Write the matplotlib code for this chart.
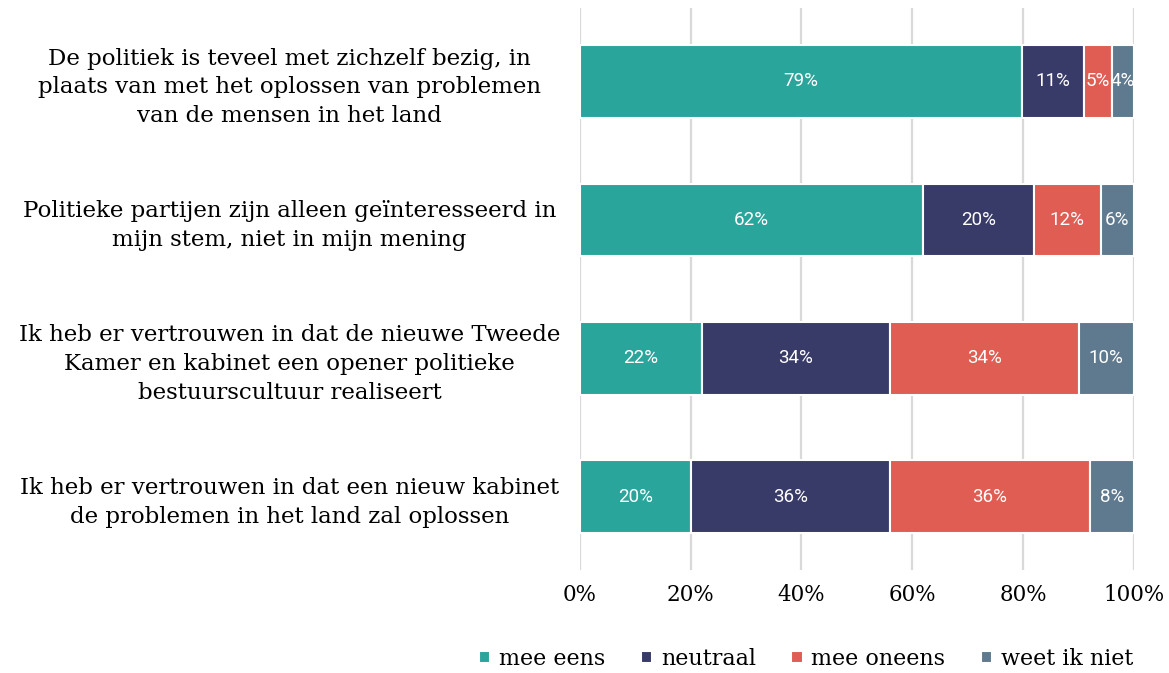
import matplotlib.pyplot as plt
import numpy as np

# data
statements = [
    "De politiek is teveel met zichzelf bezig, in\nplaats van met het oplossen van problemen\nvan de mensen in het land",
    "Politieke partijen zijn alleen geïnteresseerd in\nmijn stem, niet in mijn mening",
    "Ik heb er vertrouwen in dat de nieuwe Tweede\nKamer en kabinet een opener politieke\nbestuurscultuur realiseert",
    "Ik heb er vertrouwen in dat een nieuw kabinet\nde problemen in het land zal oplossen",
]
categories = ["mee eens", "neutraal", "mee oneens", "weet ik niet"]
mee_eens = [79, 62, 22, 20]
neutraal = [11, 20, 34, 36]
mee_oneens = [5, 12, 34, 36]
weet_niet = [4, 6, 10, 8]
colors = ["#2aa59b", "#383a68", "#df5d52", "#5f7a8f"]

serif = ["DejaVu Serif"]

values = np.array([mee_eens, neutraal, mee_oneens, weet_niet], dtype=float)
totals = values.sum(axis=0)
shares = values / totals * 100  # 100% gestapeld

fig = plt.figure(figsize=(11.69, 6.73), dpi=100)
ax = fig.add_axes([0.496, 0.153, 0.474, 0.835])

y = np.arange(len(statements))
left = np.zeros(len(statements))
for i, cat in enumerate(categories):
    bars = ax.barh(y, shares[i], left=left, height=0.525, color=colors[i],
                   edgecolor="white", linewidth=1.5, label=cat, zorder=3)
    for j, bar in enumerate(bars):
        ax.text(left[j] + shares[i][j] / 2, y[j], f"{int(values[i][j])}%",
                ha="center", va="center", color="white", fontsize=13.5,
                family=["Roboto", "DejaVu Sans"], zorder=4)
    left += shares[i]

ax.set_ylim(3.53, -0.53)
ax.set_xlim(0, 100)
ax.set_xticks([0, 20, 40, 60, 80, 100])
ax.set_xticklabels(["0%", "20%", "40%", "60%", "80%", "100%"], family=serif, fontsize=15.5)
ax.set_yticks(y)
ax.set_yticklabels(statements, family=serif, fontsize=16.5, ha="center", linespacing=1.4)
ax.tick_params(axis="y", length=0, pad=209)
ax.tick_params(axis="x", length=0, pad=10)
ax.grid(axis="x", color="#d9d9d9", linewidth=1.6, zorder=0)
for s in ax.spines.values():
    s.set_visible(False)

ax.legend(loc="lower right", bbox_to_anchor=(1.035, -0.213), ncol=4, frameon=False,
          prop={"family": serif, "size": 16}, handlelength=0.5, handleheight=0.5,
          handletextpad=0.4, columnspacing=1.6)

plt.savefig("out.png", dpi=100)
plt.close()
